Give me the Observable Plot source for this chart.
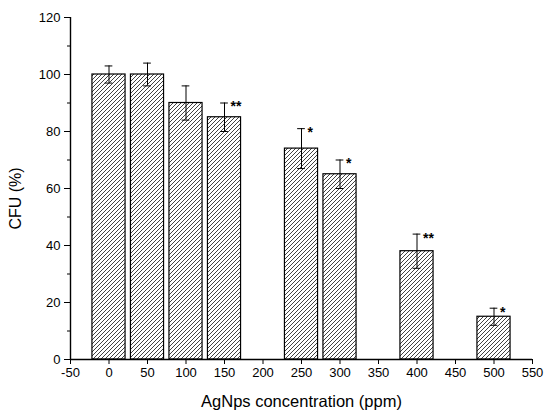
<!DOCTYPE html>
<html>
<head>
<meta charset="utf-8">
<script src="https://cdn.jsdelivr.net/npm/d3@7"></script>
<script src="https://cdn.jsdelivr.net/npm/@observablehq/plot@0.6"></script>
<style>
  html, body { margin: 0; padding: 0; background: #fff; }
  svg { display: block; }
</style>
</head>
<body>
<div id="chart"></div>
<script>
// Data
const concentrations = [0, 50, 100, 150, 250, 300, 400, 500];
const cfuValues = [100, 100, 90, 85, 74, 65, 38, 15];
const cfuErrors = [3, 4, 6, 5, 7, 5, 6, 3];
const significance = ["", "", "", "**", "*", "*", "**", "*"];
const xTickValues = [-50, 0, 50, 100, 150, 200, 250, 300, 350, 400, 450, 500, 550];
const yTickValues = [0, 20, 40, 60, 80, 100, 120];
const yMinorTickValues = [10, 30, 50, 70, 90, 110];
const xLabel = "AgNps concentration (ppm)";
const yLabel = "CFU (%)";

// Style constants
const BAR_HALF = 21.5;
const CAP_HALF = 5;

const rows = concentrations.map((c, i) => ({
  c, v: cfuValues[i], e: cfuErrors[i], s: significance[i]
}));

const chart = Plot.plot({
  width: 545,
  height: 417,
  marginLeft: 70,
  marginRight: 13,
  marginTop: 17,
  marginBottom: 58,
  style: { fontFamily: "'Liberation Sans', Arial, sans-serif", fontSize: "13px", color: "black", background: "white" },
  x: { domain: [-50, 550] },
  y: { domain: [0, 120] },
  marks: [
    Plot.rect(rows, {
      x1: d => d.c - BAR_HALF, x2: d => d.c + BAR_HALF,
      y1: 0, y2: "v",
      fill: "url(#hatch)", stroke: "black", strokeWidth: 1.2
    }),
    Plot.ruleX(rows, { x: "c", y1: d => d.v - d.e, y2: d => d.v + d.e, stroke: "black", strokeWidth: 1 }),
    Plot.ruleY(rows, { y: d => d.v + d.e, x1: d => d.c - CAP_HALF, x2: d => d.c + CAP_HALF, stroke: "black", strokeWidth: 1 }),
    Plot.ruleY(rows, { y: d => d.v - d.e, x1: d => d.c - CAP_HALF, x2: d => d.c + CAP_HALF, stroke: "black", strokeWidth: 1 }),
    Plot.text(rows.filter(d => d.s), {
      x: "c", y: d => d.v + d.e, text: "s",
      textAnchor: "start", dx: 6, dy: 4, fontWeight: "bold", fontSize: 14, fill: "black"
    }),
    Plot.ruleX([-50], { y1: 0, y2: 120, stroke: "black", strokeWidth: 1.4 }),
    Plot.ruleY([0], { x1: -50, x2: 550, stroke: "black", strokeWidth: 1.4 }),
    Plot.axisY({ ticks: yTickValues, tickSize: 6, tickPadding: 4, tickFormat: d => String(d), label: null, fontSize: 13 }),
    Plot.axisY({ ticks: yMinorTickValues, tickSize: 3, text: null, label: null }),
    Plot.axisX({ ticks: xTickValues, tickSize: 5, tickPadding: 3, tickFormat: d => String(d), label: null, fontSize: 13 }),
    Plot.text([xLabel], { frameAnchor: "bottom", dy: 42, text: d => d, fontSize: 16.5, lineAnchor: "middle", fill: "black" }),
    Plot.text([yLabel], { frameAnchor: "left", dx: -55, dy: 10, rotate: -90, text: d => d, fontSize: 16, textAnchor: "middle", lineAnchor: "middle", fill: "black" })
  ]
});

// hatch pattern
const ns = "http://www.w3.org/2000/svg";
const defs = document.createElementNS(ns, "defs");
const pattern = document.createElementNS(ns, "pattern");
pattern.setAttribute("id", "hatch");
pattern.setAttribute("patternUnits", "userSpaceOnUse");
pattern.setAttribute("width", "4");
pattern.setAttribute("height", "4");
const bg = document.createElementNS(ns, "rect");
bg.setAttribute("width", "4"); bg.setAttribute("height", "4"); bg.setAttribute("fill", "white");
const path = document.createElementNS(ns, "path");
path.setAttribute("d", "M-1,1 l2,-2 M0,4 l4,-4 M3,5 l2,-2");
path.setAttribute("stroke", "#111");
path.setAttribute("stroke-width", "0.8");
pattern.appendChild(bg);
pattern.appendChild(path);
defs.appendChild(pattern);
chart.insertBefore(defs, chart.firstChild);

document.getElementById("chart").appendChild(chart);
</script>
</body>
</html>
